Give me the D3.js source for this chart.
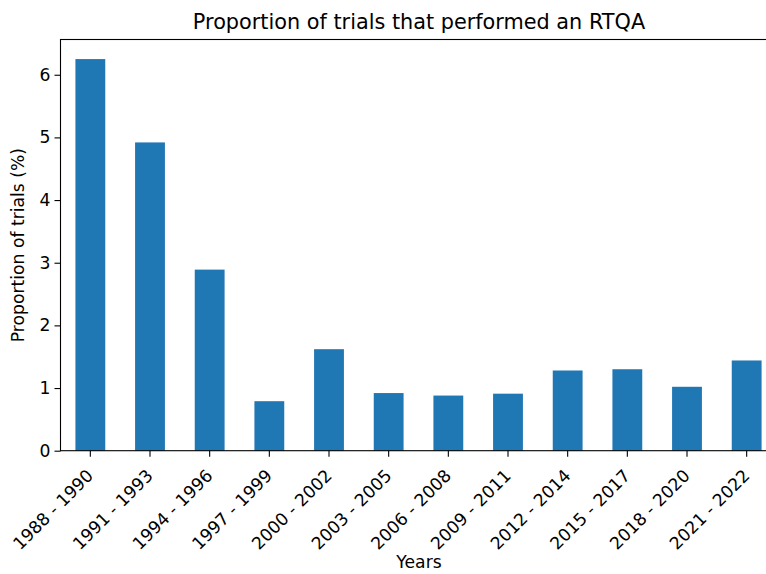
<!DOCTYPE html>
<html><head><meta charset="utf-8">
<script src="https://cdn.jsdelivr.net/npm/d3@7/dist/d3.min.js"></script>
<style>body{margin:0;background:#fff}svg{display:block}text{font-family:"DejaVu Sans",sans-serif;fill:#000}</style>
</head><body><svg id="c" width="766" height="574"></svg>
<script>
const categories = ["1988 - 1990","1991 - 1993","1994 - 1996","1997 - 1999","2000 - 2002","2003 - 2005","2006 - 2008","2009 - 2011","2012 - 2014","2015 - 2017","2018 - 2020","2021 - 2022"];
const values = [6.25, 4.92, 2.89, 0.79, 1.62, 0.92, 0.88, 0.91, 1.28, 1.30, 1.02, 1.44];
const yTicks = [0,1,2,3,4,5,6];
const title = "Proportion of trials that performed an RTQA";
const xLabel = "Years";
const yLabel = "Proportion of trials (%)";

const svg = d3.select("#c");
const L = 60.5, R = 776.5, T = 39.5, B = 450.7;
const x = d3.scaleBand().domain(categories).range([L, R]).paddingInner(0.5).paddingOuter(0.25);
const y = d3.scaleLinear().domain([0, d3.max(values) * 1.05]).range([B, T]);

svg.append("g").selectAll("rect").data(values).join("rect")
  .attr("x", (d, i) => x(categories[i]))
  .attr("width", x.bandwidth())
  .attr("y", d => y(d))
  .attr("height", d => B - y(d))
  .attr("fill", "#1f77b4");

const fs = 17.2;
// y axis
const ya = svg.append("g").attr("transform", `translate(${L},0)`)
  .call(d3.axisLeft(y).tickValues(yTicks).tickFormat(d3.format("d")).tickSize(6).tickPadding(4));
ya.select(".domain").remove();
ya.selectAll("line").attr("stroke", "#000").attr("stroke-width", 1.1);
ya.selectAll("text").attr("font-size", fs).attr("font-family", "DejaVu Sans").attr("fill", "#000");

// x axis
const xa = svg.append("g").attr("transform", `translate(0,${B})`)
  .call(d3.axisBottom(x).tickSize(6).tickPadding(0));
xa.select(".domain").remove();
xa.selectAll("line").attr("stroke", "#000").attr("stroke-width", 1.1);
xa.selectAll("text").attr("font-size", fs).attr("font-family", "DejaVu Sans").attr("fill", "#000")
  .attr("text-anchor", "end").attr("y", 0).attr("dy", 0)
  .attr("transform", "translate(4,26) rotate(-45)");

// spines
const sp = svg.append("g").attr("stroke", "#000").attr("stroke-width", 1.1).attr("fill", "none");
sp.append("rect").attr("x", L).attr("y", T).attr("width", R - L).attr("height", B - T);

svg.append("text").attr("x", 419).attr("y", 29).attr("text-anchor", "middle").attr("font-size", 20.8).text(title);
svg.append("text").attr("x", 419).attr("y", 568).attr("text-anchor", "middle").attr("font-size", fs).text(xLabel);
svg.append("text").attr("transform", `translate(24,${(T + B) / 2}) rotate(-90)`).attr("text-anchor", "middle").attr("font-size", fs).text(yLabel);
</script></body></html>
